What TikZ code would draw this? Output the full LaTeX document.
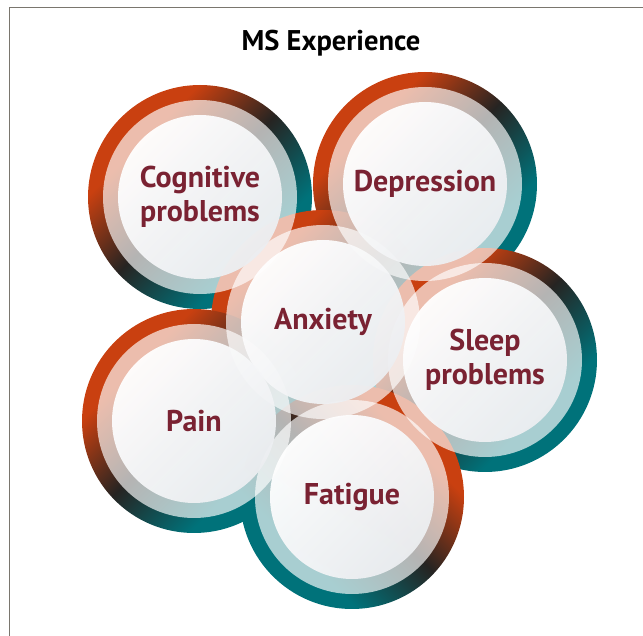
\documentclass[tikz,border=0pt]{standalone}
\usepackage{fontspec}
\setmainfont{PT Sans}
\usepackage{tikz}

\definecolor{msorange}{RGB}{201,64,16}
\definecolor{msdark}{RGB}{38,36,34}
\definecolor{msteal}{RGB}{0,114,122}
\definecolor{mspale}{RGB}{236,238,241}
\definecolor{mslabel}{RGB}{122,34,50}
\definecolor{msframe}{RGB}{122,118,110}

\pgfdeclareverticalshading{msband}{100bp}{color(0bp)=(msteal); color(33bp)=(msteal);
    color(51bp)=(msdark); color(68bp)=(msorange); color(100bp)=(msorange)}

\begin{document}
\begin{tikzpicture}[x=1pt,y=1pt,
    band/.style={circle,minimum size=224pt,inner sep=0pt,shading=msband},
    ring/.style={circle,minimum size=194pt,inner sep=0pt,fill=white,fill opacity=0.66},
    core/.style={circle,minimum size=164pt,inner sep=0pt,top color=white,bottom color=mspale,shading angle=45,
        fill opacity=0.95,text opacity=1,text=mslabel,align=center,font=\fontsize{30}{34}\selectfont\bfseries}]
    \useasboundingbox (0,0) rectangle (643,635);
    \draw[msframe,line width=0.8pt] (9.5,-2) -- (9.5,627.5) -- (645,627.5);
    \node[font=\fontsize{28.5}{32}\selectfont\bfseries] (title) at (331,592) {MS Experience};
    % coloured bands first, then the pale rings, then the centres
    \foreach \name/\px/\py/\ang in {cog/200/438/45,dep/425/451/45,anx/323/313/45,slp/485/275/45,pain/194/214/45,fat/352/138/-45}
        \node[band,shading angle=\ang] (\name band) at (\px,\py) {};
    \foreach \name in {cog,dep,anx,slp,pain,fat}
        \node[ring] (\name ring) at (\name band) {};
    \foreach \name/\txt in {cog/{Cognitive\\problems},dep/Depression,anx/Anxiety,slp/{Sleep\\problems},pain/Pain,fat/Fatigue}
        \node[core] (\name) at (\name band) {\txt};
\end{tikzpicture}
\end{document}
